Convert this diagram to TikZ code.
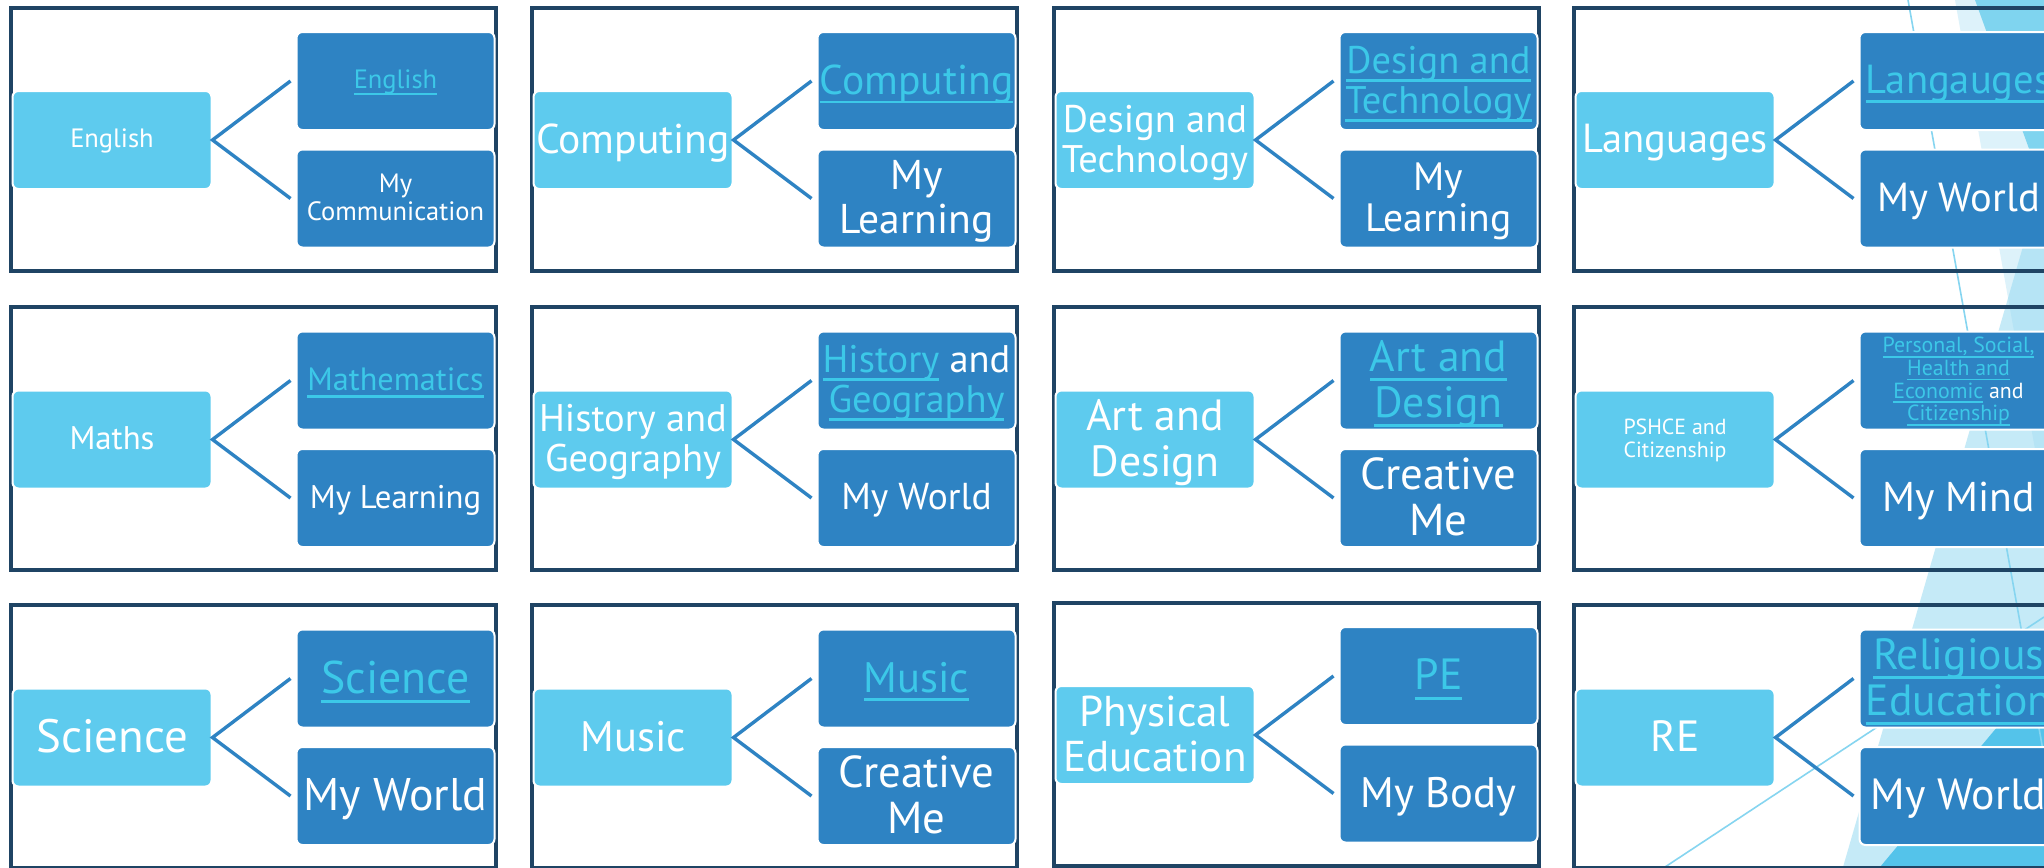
\documentclass[tikz,border=0pt]{standalone}
\usepackage{fontspec}
\setmainfont{PT Sans}
\definecolor{framec}{HTML}{1F4464}
\definecolor{rbc}{HTML}{2E83C3}
\definecolor{lbc}{HTML}{5ECBEE}
\definecolor{linkc}{HTML}{3CC8E8}
\definecolor{decopale}{HTML}{DDF2FA}
\definecolor{decodark}{HTML}{7FD4EF}
\definecolor{decolight}{HTML}{9ADBF2}
\definecolor{decomed}{HTML}{54C3EA}
\definecolor{decoline}{HTML}{86D5F0}
\newcommand\fs[1]{\fontsize{\dimexpr #1*104/100\relax}{\dimexpr #1*108/100\relax}\selectfont}
\newcommand\lnk[1]{{\color{linkc}\setbox0=\hbox{#1}\rlap{\hbox to\wd0{\leaders\hrule height -0.15em depth 0.22em\hfill}}\box0}}
\tikzset{
  panelframe/.style={draw=framec, line width=2pt, minimum width=242.5pt, minimum height=131.5pt, inner sep=0pt},
  lbox/.style={fill=lbc, draw=white, line width=1pt, rounded corners=3pt, minimum width=99.5pt, minimum height=49pt, inner sep=0pt},
  rbox/.style={fill=rbc, draw=white, line width=1pt, rounded corners=3pt, minimum width=99pt, minimum height=49pt, inner sep=0pt},
  conn/.style={draw=rbc, line width=1.7pt, line join=miter},
  txt/.style={text=white, align=center, inner sep=0pt, text depth=0pt, yshift=0.75pt},
  decoln/.style={draw=decoline, line width=0.8pt}
}
\newcommand\panel[9]{%
  \node[panelframe] (#3f) at (#1+244.5,#2+133.5) {};
  \node[lbox] (#3l) at (#1+103,#2+134.5) {};
  \node[rbox] (#3t) at (#1+386.5,#2+75.5) {};
  \node[rbox] (#3b) at (#1+386.5,#2+193) {};
  \draw[conn] ([xshift=-2.5pt]#3t.west) -- (#3l.east) -- ([xshift=-2.5pt]#3b.west);
  \node[txt, font=\fs{#5}] (#3lx) at (#3l.center) {#4};
  \node[txt, font=\fs{#7}] (#3tx) at (#3t.center) {#6};
  \node[txt, font=\fs{#9}] (#3bx) at (#3b.center) {#8};
}
\begin{document}
\begin{tikzpicture}[x=0.5pt, y=-0.5pt]
\useasboundingbox (0,0) rectangle (2044,867);
\clip (0,0) rectangle (2044,867);
\fill[white] (0,0) rectangle (2044,867);
% background decoration
\fill[decopale] (1955,0) -- (2044,0) -- (2044,500) -- cycle;
\fill[decodark] (1975,0) -- (2044,0) -- (2044,190) -- cycle;
\fill[decolight, fill opacity=0.57] (2044,174) -- (2044,867) -- (1843,867) -- cycle;
\fill[decomed] (2044,671) -- (2044,867) -- (1880,867) -- cycle;
\draw[decoln] (1908,0) -- (2044,756);
\draw[decoln] (1665,867) -- (2044,617);
% row 1
\panel{9}{5.5}{a}{English}{12.75pt}{\lnk{English}}{12.75pt}{My\\Communication}{12.75pt}
\panel{530}{5.5}{b}{Computing}{20pt}{\lnk{Computing}}{20pt}{My\\Learning}{20pt}
\panel{1052}{5.5}{c}{Design and\\Technology}{18.5pt}{\lnk{Design and}\\\lnk{Technology}}{18.5pt}{My\\Learning}{19pt}
\panel{1572}{5.5}{d}{Languages}{19.5pt}{\lnk{Langauges}}{19.5pt}{My World}{19.5pt}
% row 2
\panel{9}{305}{e}{Maths}{15.75pt}{\lnk{Mathematics}}{15.5pt}{My Learning}{15.75pt}
\panel{530}{305}{f}{History and\\Geography}{18.5pt}{\lnk{History} and\\\lnk{Geography}}{18.5pt}{My World}{18pt}
\panel{1052}{305}{g}{Art and\\Design}{21pt}{\lnk{Art and}\\\lnk{Design}}{21pt}{Creative\\Me}{21.5pt}
\panel{1572}{305}{h}{PSHCE and\\Citizenship}{10.5pt}{\lnk{Personal, Social,}\\\lnk{Health and}\\\lnk{Economic} and\\\lnk{Citizenship}}{10.5pt}{My Mind}{20pt}
% row 3
\panel{9}{603}{i}{Science}{22.5pt}{\lnk{Science}}{22pt}{My World}{22pt}
\panel{530}{603}{j}{Music}{20.5pt}{\lnk{Music}}{20.5pt}{Creative\\Me}{21.5pt}
\panel{1052}{600.5}{k}{Physical\\Education}{20.75pt}{\lnk{PE}}{21pt}{My Body}{20.5pt}
\panel{1572}{603}{l}{RE}{21pt}{\lnk{Religious}\\\lnk{Education}}{21pt}{My World}{21pt}
\end{tikzpicture}
\end{document}
